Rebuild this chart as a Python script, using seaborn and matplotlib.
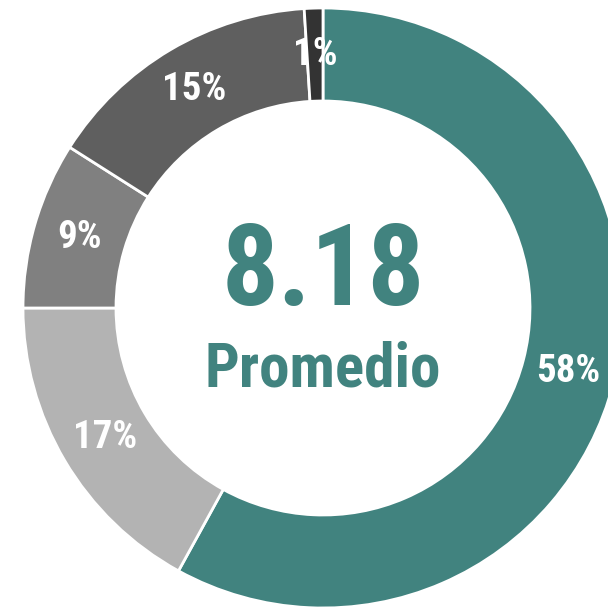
import matplotlib
matplotlib.use("Agg")
import matplotlib.pyplot as plt
import seaborn as sns

# share of answers per score band, clockwise from the top
shares = [58, 17, 9, 15, 1]
slice_colors = ["#41837F", "#B3B3B3", "#808080", "#5F5F5F", "#333333"]
average = "8.18"
average_label = "Promedio"

sns.set_theme(style="white")
plt.rcParams["font.family"] = ["Roboto Condensed", "Liberation Sans", "DejaVu Sans"]

fig = plt.figure(figsize=(6.08, 6.07), dpi=100)
# ring is a bit larger than the canvas on the right, so the axes run past the edge
ax = fig.add_axes([23 / 608, 1 - 608 / 607, 600 / 608, 600 / 607])

wedges, texts, pcts = ax.pie(
    shares,
    colors=slice_colors,
    startangle=90,
    counterclock=False,
    radius=1,
    autopct=lambda p: f"{p:.0f}%",
    pctdistance=0.845,
    wedgeprops=dict(width=0.31, edgecolor="white", linewidth=2),
    textprops=dict(color="white", fontsize=28, fontweight="bold"),
)

ax.text(0, 0.01, average, ha="center", va="baseline",
        fontsize=81, fontweight="bold", color=slice_colors[0])
ax.text(0, -0.263, average_label, ha="center", va="baseline",
        fontsize=44, fontweight="bold", color=slice_colors[0])

ax.set_xlim(-1, 1)
ax.set_ylim(-1, 1)
ax.set_aspect("equal")
ax.axis("off")

fig.savefig("out.png", dpi=100)
